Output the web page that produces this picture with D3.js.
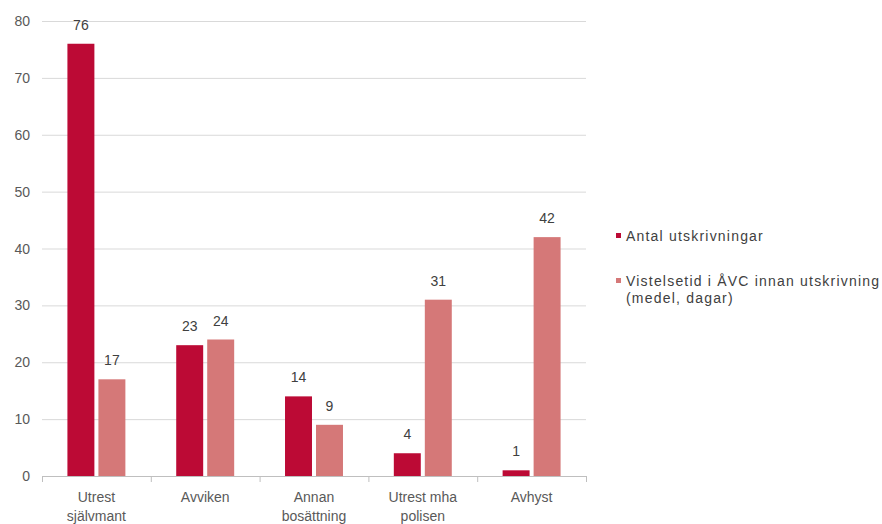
<!DOCTYPE html>
<html><head><meta charset="utf-8">
<script src="https://cdn.jsdelivr.net/npm/d3@7/dist/d3.min.js"></script>
<style>body{margin:0;background:#fff;font-family:"Liberation Sans",Arial,sans-serif;}</style>
</head><body>
<svg id="c" width="882" height="524"></svg>
<script>
const categories = [["Utrest","självmant"],["Avviken"],["Annan","bosättning"],["Utrest mha","polisen"],["Avhyst"]];
const seriesNames = ["Antal utskrivningar", "Vistelsetid i ÅVC innan utskrivning|(medel, dagar)"];
const antal = [76, 23, 14, 4, 1];
const vistelse = [17, 24, 9, 31, 42];
const yTicks = [0,10,20,30,40,50,60,70,80];
const colors = ["#BC0A35", "#D57878"];

const svg = d3.select("#c");
const pLeft = 42, pRight = 586, pTop = 21, pBottom = 476;
const x = d3.scaleBand().domain(d3.range(categories.length)).range([pLeft, pRight]);
const y = d3.scaleLinear().domain([0, 80]).range([pBottom, pTop]);
const inner = d3.scaleBand().domain([0,1]).range([0, x.bandwidth()]).paddingInner(0.13).paddingOuter(0.82);

// gridlines
svg.append("g").selectAll("line").data(yTicks.filter(d=>d>0)).join("line")
  .attr("x1", pLeft).attr("x2", pRight).attr("y1", d=>y(d)+0.5).attr("y2", d=>y(d)+0.5)
  .attr("stroke", "#d9d9d9").attr("stroke-width", 1);

// y labels
svg.append("g").selectAll("text").data(yTicks).join("text")
  .attr("x", 30).attr("y", d=>y(d)+5).attr("text-anchor","end")
  .attr("font-size", 14).attr("fill", "#595959").text(d=>d);

const series = [antal, vistelse];
series.forEach((vals, si) => {
  const g = svg.append("g");
  g.selectAll("rect").data(vals).join("rect")
    .attr("x", (d,i)=>x(i)+inner(si)).attr("width", inner.bandwidth())
    .attr("y", d=>y(d)).attr("height", d=>y(0)-y(d)).attr("fill", colors[si]);
  g.selectAll("text").data(vals).join("text")
    .attr("x", (d,i)=>x(i)+inner(si)+inner.bandwidth()/2).attr("y", d=>y(d)-14)
    .attr("text-anchor","middle").attr("font-size", 14).attr("fill","#404040").text(d=>d);
});

// x axis
svg.append("line").attr("x1", pLeft).attr("x2", pRight).attr("y1", pBottom+0.5).attr("y2", pBottom+0.5)
  .attr("stroke", "#bfbfbf");
svg.append("g").selectAll("line").data(d3.range(categories.length+1)).join("line")
  .attr("x1", i=>pLeft + i*x.step()+0.5).attr("x2", i=>pLeft + i*x.step()+0.5)
  .attr("y1", pBottom).attr("y2", pBottom+6).attr("stroke","#bfbfbf");
const cl = svg.append("g").selectAll("text").data(categories).join("text")
  .attr("text-anchor","middle").attr("font-size", 14).attr("fill","#595959");
cl.each(function(lines, i){
  d3.select(this).selectAll("tspan").data(lines).join("tspan")
    .attr("x", x(i)+x.bandwidth()/2).attr("y", (d,j)=>502+j*19).text(d=>d);
});

// legend
const leg = svg.append("g");
seriesNames.forEach((name, si) => {
  const yy = [236, 281][si];
  leg.append("rect").attr("x", 616).attr("y", yy-3).attr("width", 5).attr("height", 5).attr("fill", colors[si]);
  const t = leg.append("text").attr("font-size", 14).attr("fill","#404040").attr("letter-spacing", 1.2);
  name.split("|").forEach((ln, j) => {
    t.append("tspan").attr("x", 626).attr("y", yy+5+j*17).text(ln);
  });
});
</script>
</body></html>
